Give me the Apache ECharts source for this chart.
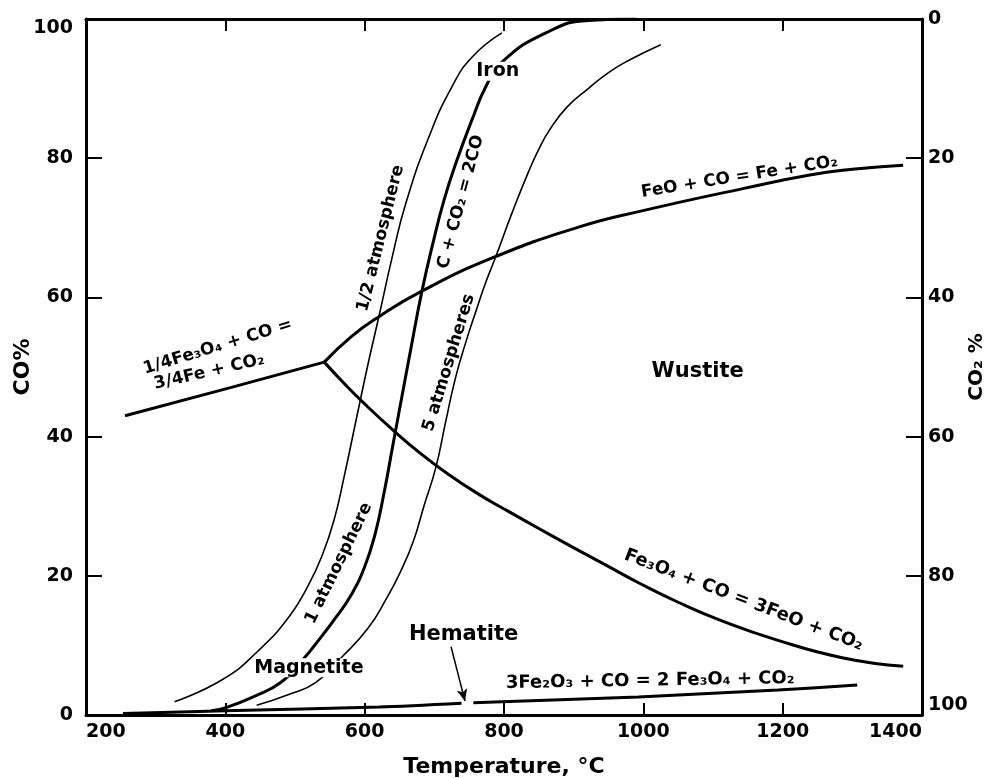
<!DOCTYPE html>
<html>
<head>
<meta charset="utf-8">
<script src="https://cdn.jsdelivr.net/npm/echarts@6/dist/echarts.min.js"></script>
<style>
  html, body { margin: 0; padding: 0; background: #fff; }
  #chart { width: 994px; height: 778px; }
</style>
</head>
<body>
<div id="chart"></div>
<script>
// temperature (°C), CO (%)
const quarterFeLine = [[256, 43.0], [406, 47.0], [542, 50.7]];
const feoLine = [[542, 50.7], [580, 54.3], [620, 57.2], [680, 60.8], [784, 65.7], [907, 70.1], [1001, 72.5], [1146, 75.7], [1239, 77.6], [1300, 78.4], [1373, 79.0]];
const magnetiteLine = [[542, 50.7], [570, 47.7], [600, 44.7], [640, 41.0], [680, 37.6], [720, 34.6], [764, 31.7], [802, 29.5], [850, 26.8], [897, 24.2], [945, 21.6], [993, 19.0], [1050, 16.2], [1111, 13.6], [1191, 10.8], [1287, 8.2], [1373, 7.0]];
const hematiteLow = [[253, 0.2], [400, 0.6], [621, 1.15], [739, 1.7]];
const hematiteHigh = [[756, 1.75], [993, 2.6], [1193, 3.6], [1307, 4.3]];
const halfAtm = [[327, 1.9], [396, 5.1], [447, 9.2], [492, 14.2], [520, 18.8], [540, 23.2], [556, 28.0], [570, 34.0], [589, 43.0], [605, 50.5], [621, 57.5], [640, 66.0], [659, 73.5], [692, 83.0], [725, 90.2], [754, 94.5], [797, 98.0]];
const oneAtm = [[380, 0.6], [402, 1.1], [440, 2.6], [480, 4.7], [510, 7.8], [539, 11.4], [560, 14.2], [581, 17.3], [600, 21.3], [615, 26.0], [628, 32.0], [640, 38.5], [653, 45.5], [667, 53.0], [682, 60.8], [698, 67.8], [714, 74.0], [731, 79.3], [754, 85.5], [774, 90.3], [797, 93.8], [860, 98.0], [921, 99.8], [990, 100]];
const fiveAtm = [[445, 1.4], [490, 2.9], [530, 4.7], [568, 8.4], [605, 12.5], [630, 16.5], [651, 20.5], [670, 25.0], [685, 30.0], [702, 35.5], [716, 42.0], [730, 48.3], [745, 53.5], [760, 58.1], [774, 62.2], [788, 65.8], [811, 72.0], [835, 78.0], [850, 81.3], [865, 84.0], [890, 87.3], [921, 90.0], [950, 92.3], [978, 94.0], [1025, 96.3]];
const hematiteArrow = [[724, 9.8], [744, 2.0]];

// text, temperature, CO, rotation, font size
const notes = [
  ['Iron', 791, 92.5, 0, 19],
  ['Wustite', 1078, 49.3, 0, 21],
  ['Magnetite', 520, 6.8, 0, 19],
  ['Hematite', 742, 11.6, 0, 21],
  ['1/2 atmosphere', 623, 68.5, 76, 17],
  ['C + CO₂ = 2CO', 738, 73.7, 75, 17],
  ['5 atmospheres', 721, 50.6, 73, 17],
  ['1 atmosphere', 563, 21.8, 64, 17],
  ['1/4Fe₃O₄ + CO =', 389, 52.9, 17, 17],
  ['3/4Fe + CO₂', 377, 49.3, 13, 17],
  ['FeO + CO = Fe + CO₂', 1138, 77.3, 9, 17],
  ['Fe₃O₄ + CO = 3FeO + CO₂', 1144, 16.5, -21, 18],
  ['3Fe₂O₃ + CO = 2 Fe₃O₄ + CO₂', 1010, 4.9, 1, 18],
];
const maskedNotes = ['Iron', 'Magnetite'];

const font = 'DejaVu Sans';
const chart = echarts.init(document.getElementById('chart'));

function curve(data, width, smooth) {
  return {
    type: 'line',
    data,
    smooth,
    symbol: 'none',
    lineStyle: { color: '#000', width },
    z: 2,
  };
}

const axisLine = { lineStyle: { color: '#000', width: 3 } };
const tickStyle = { color: '#000', width: 2 };
const labelStyle = { color: '#000', fontSize: 19, fontWeight: 'bold', fontFamily: font, formatter: (v) => String(v) };
const nameStyle = { color: '#000', fontWeight: 'bold', fontFamily: font };

chart.setOption({
  animation: false,
  grid: { left: 86, right: 72, top: 19, bottom: 63, outerBoundsMode: 'none', containLabel: false },
  xAxis: [
    {
      type: 'value', min: 200, max: 1400, interval: 200, position: 'bottom',
      axisLine, splitLine: { show: false },
      axisTick: { inside: true, length: 12, lineStyle: tickStyle },
      axisLabel: { ...labelStyle, margin: 8, alignMinLabel: 'left', alignMaxLabel: 'right' },
      name: 'Temperature, °C', nameLocation: 'middle', nameGap: 41, nameMoveOverlap: false,
      nameTextStyle: { ...nameStyle, fontSize: 22 },
    },
    {
      type: 'value', min: 200, max: 1400, interval: 200, position: 'top',
      axisLine, splitLine: { show: false },
      axisTick: { inside: true, length: 12, lineStyle: tickStyle },
      axisLabel: { show: false },
    },
  ],
  yAxis: [
    {
      type: 'value', min: 0, max: 100, interval: 20, position: 'left',
      axisLine, splitLine: { show: false },
      axisTick: { inside: true, length: 16, lineStyle: tickStyle },
      axisLabel: { ...labelStyle, margin: 13, verticalAlignMaxLabel: 'top' },
      name: 'CO%', nameLocation: 'middle', nameGap: 52, nameRotate: 90, nameMoveOverlap: false,
      nameTextStyle: { ...nameStyle, fontSize: 22 },
    },
    {
      type: 'value', min: 0, max: 100, interval: 20, position: 'right', inverse: true,
      axisLine, splitLine: { show: false },
      axisTick: { inside: true, length: 16, lineStyle: tickStyle },
      axisLabel: { ...labelStyle, margin: 6, verticalAlignMaxLabel: 'bottom' },
      name: 'CO₂ %', nameLocation: 'middle', nameGap: 45, nameRotate: 90, nameMoveOverlap: false,
      nameTextStyle: { ...nameStyle, fontSize: 20 },
    },
  ],
  series: [
    curve(quarterFeLine, 3, false),
    curve(feoLine, 3, 0.5),
    curve(magnetiteLine, 3, 0.5),
    curve(hematiteLow, 3, 0.3),
    curve(hematiteHigh, 3, 0.3),
    curve(halfAtm, 1.6, 0.5),
    curve(oneAtm, 3, 0.5),
    curve(fiveAtm, 1.6, 0.5),
    {
      type: 'scatter',
      symbolSize: 0,
      z: 5,
      itemStyle: { opacity: 1 },
      data: notes.map(([text, t, co, rot, size]) => ({
        name: text,
        value: [t, co],
        label: {
          rotate: rot,
          fontSize: size,
          color: '#000',
          backgroundColor: maskedNotes.includes(text) ? '#fff' : 'transparent',
          padding: 0,
        },
      })),
      label: {
        show: true,
        position: 'inside',
        formatter: '{b}',
        color: '#000',
        fontWeight: 'bold',
        fontFamily: font,
      },
      markLine: {
        silent: true,
        symbol: ['none', 'arrow'],
        symbolSize: [8, 12],
        label: { show: false },
        lineStyle: { color: '#000', width: 1.5, type: 'solid', opacity: 1 },
        data: [[{ coord: hematiteArrow[0] }, { coord: hematiteArrow[1] }]],
      },
    },
  ],
});
</script>
</body>
</html>
